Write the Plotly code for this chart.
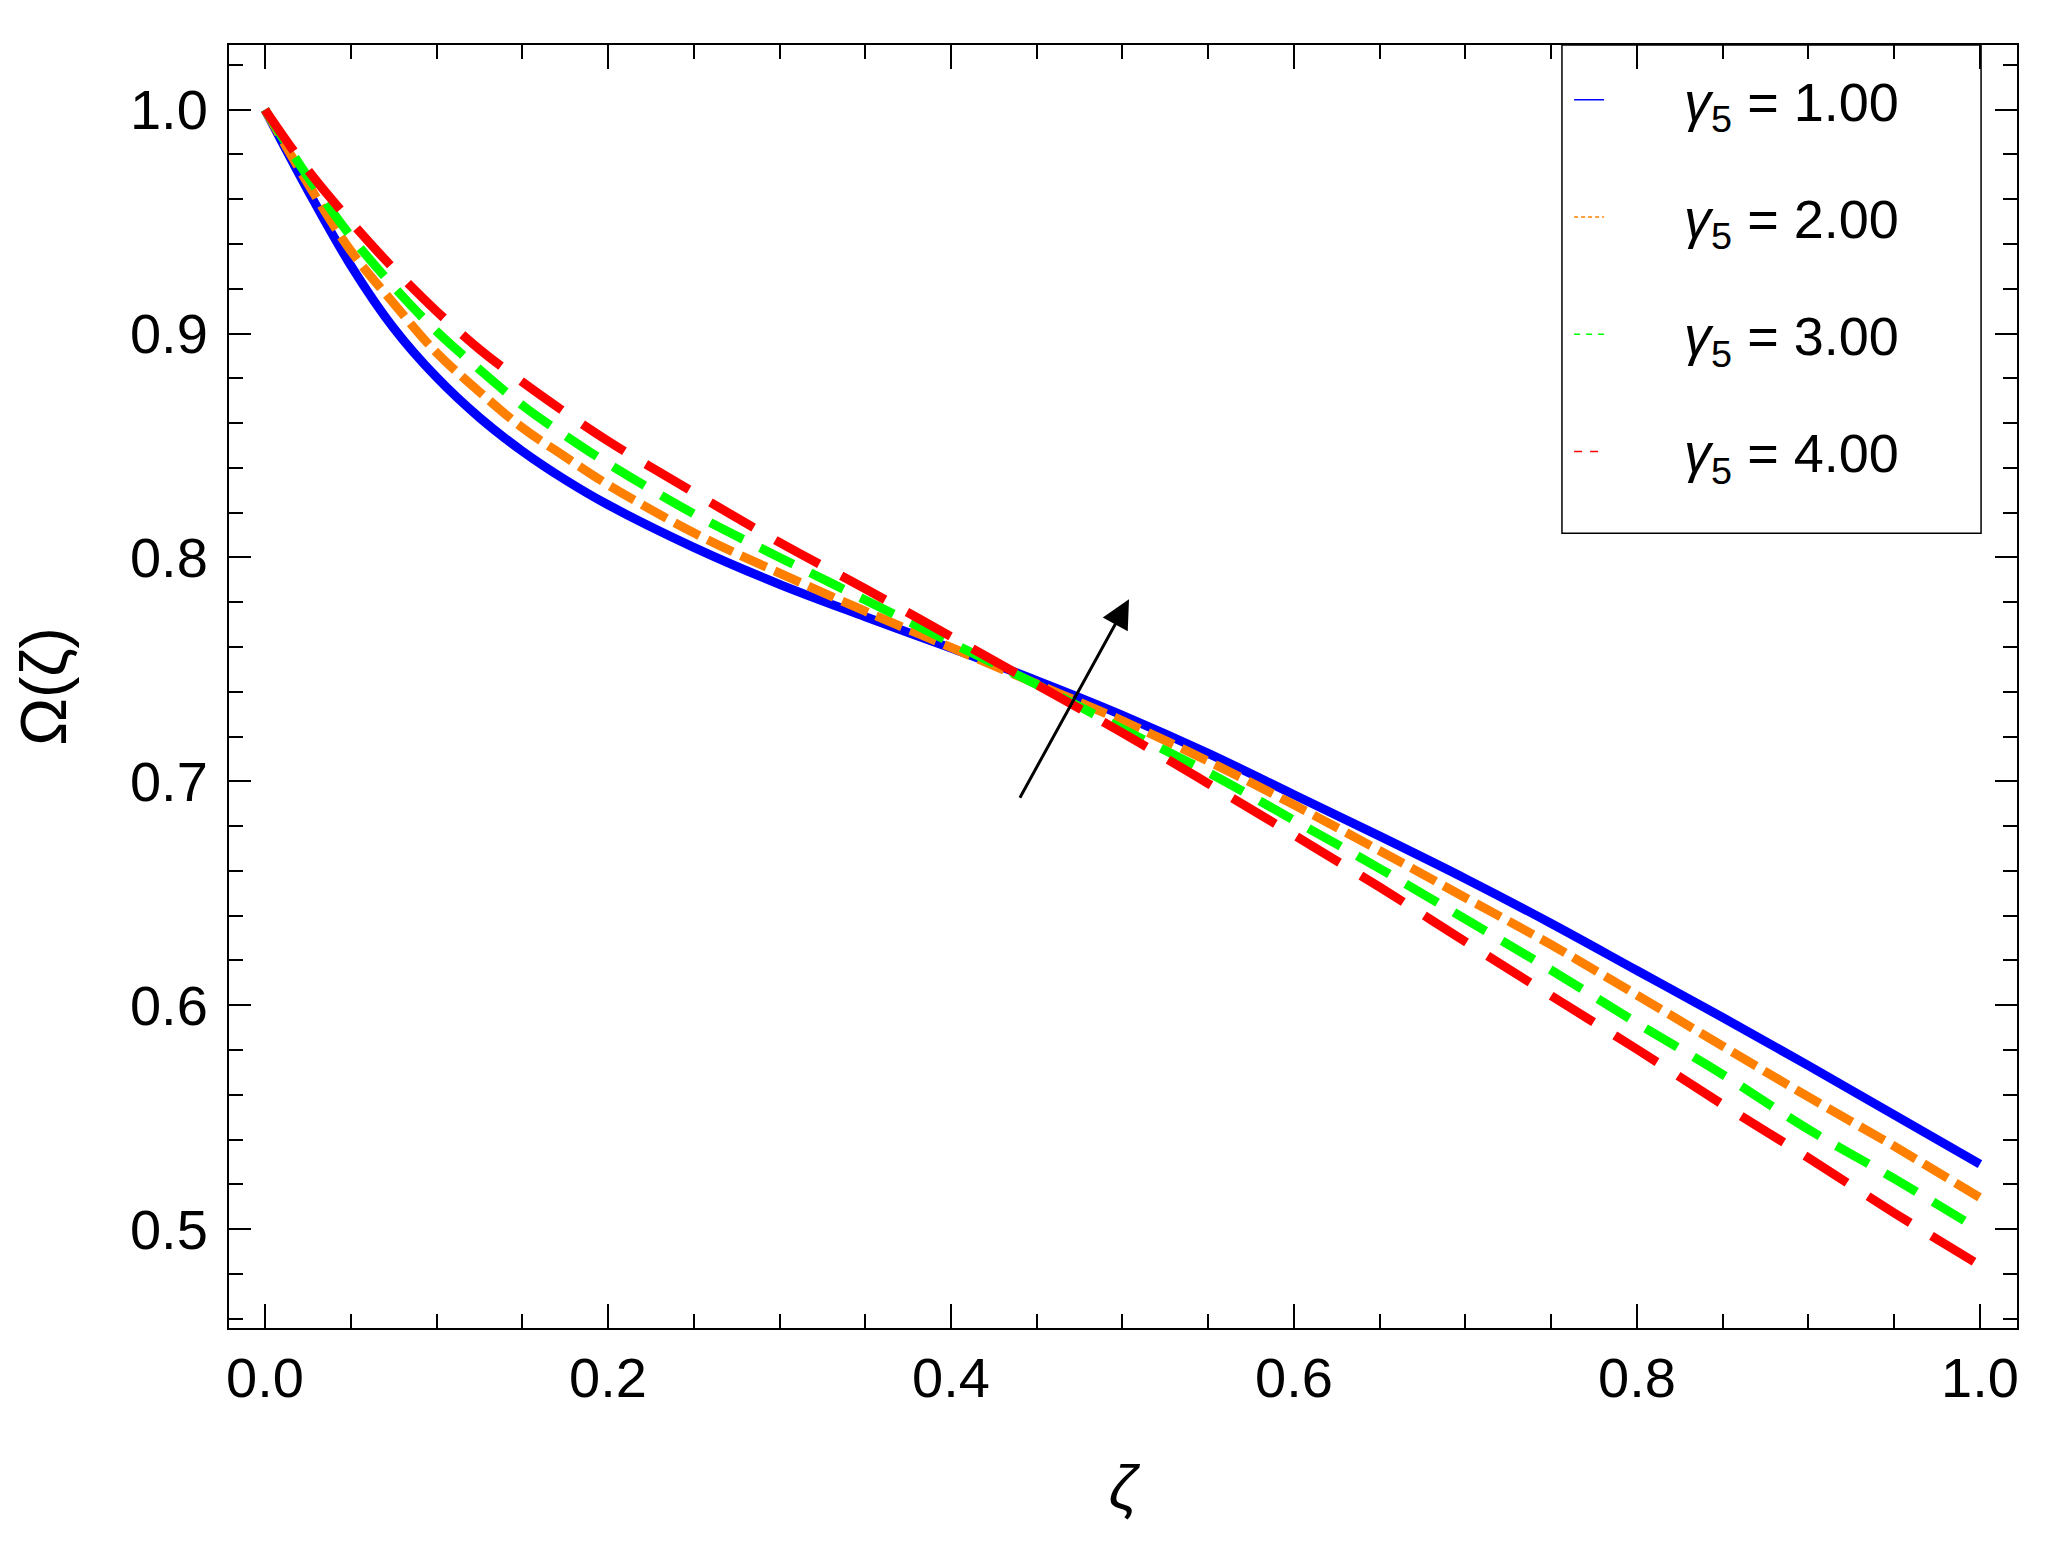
import plotly.graph_objects as go

zeta = [0, 0.025, 0.05, 0.075, 0.1, 0.125, 0.15, 0.175, 0.2, 0.25, 0.3, 0.35, 0.4,
        0.45, 0.5, 0.55, 0.6, 0.65, 0.7, 0.75, 0.8, 0.85, 0.9, 0.95, 1.0]

omega_g1 = [1.0, 0.964, 0.9305, 0.9025, 0.8805, 0.8625, 0.8475, 0.8347, 0.8235, 0.8045, 0.788, 0.7735, 0.7595,
            0.745, 0.7295, 0.7125, 0.694, 0.6755, 0.6565, 0.6365, 0.6155, 0.5945, 0.573, 0.551, 0.529]
omega_g2 = [1.0, 0.967, 0.937, 0.9135, 0.8915, 0.874, 0.858, 0.845, 0.8325, 0.811, 0.793, 0.776, 0.7598,
            0.7435, 0.727, 0.709, 0.6895, 0.669, 0.648, 0.627, 0.6045, 0.5817, 0.559, 0.537, 0.514]
omega_g3 = [1.0, 0.970, 0.9435, 0.921, 0.901, 0.884, 0.868, 0.8545, 0.842, 0.8195, 0.800, 0.781, 0.762,
            0.7432, 0.7234, 0.704, 0.6826, 0.661, 0.6384, 0.6157, 0.592, 0.569, 0.5445, 0.5225, 0.4995]
omega_g4 = [1.0, 0.973, 0.950, 0.929, 0.910, 0.893, 0.8784, 0.8648, 0.852, 0.829, 0.8067, 0.786, 0.7646,
            0.7432, 0.7216, 0.699, 0.676, 0.6527, 0.6283, 0.6042, 0.5803, 0.5556, 0.5318, 0.5072, 0.4838]

series_names = ["<i>γ</i><sub>5</sub> = 1.00", "<i>γ</i><sub>5</sub> = 2.00",
                "<i>γ</i><sub>5</sub> = 3.00", "<i>γ</i><sub>5</sub> = 4.00"]
series_values = [omega_g1, omega_g2, omega_g3, omega_g4]
colors = ["#0000FF", "#FF8000", "#00FF00", "#FF0000"]
dashes = ["solid", "28px,9px", "37px,19px", "50px,25px"]
legend_dashes = ["solid", "4px,3px", "6px,6px", "8px,8px"]

x_tickvals = [0.0, 0.2, 0.4, 0.6, 0.8, 1.0]
x_ticktext = ["0.0", "0.2", "0.4", "0.6", "0.8", "1.0"]
y_tickvals = [0.5, 0.6, 0.7, 0.8, 0.9, 1.0]
y_ticktext = ["0.5", "0.6", "0.7", "0.8", "0.9", "1.0"]

arrow_tail = (0.4397, 0.692)
arrow_head = (0.5038, 0.7813)

NB = "\u00a0"

fig = go.Figure()
for vals, col, dsh in zip(series_values, colors, dashes):
    fig.add_trace(go.Scatter(x=zeta, y=vals, mode="lines", showlegend=False,
                             line=dict(color=col, width=9, dash=dsh, shape="spline", smoothing=1.0)))
for i, (name, col, dsh) in enumerate(zip(series_names, colors, legend_dashes)):
    fig.add_trace(go.Scatter(x=[None], y=[None], mode="lines", name=NB * 5 + name, legendgroup=str(i),
                             line=dict(color=col, width=1.5, dash=dsh)))

fig.add_annotation(x=arrow_head[0], y=arrow_head[1], ax=arrow_tail[0], ay=arrow_tail[1],
                   xref="x", yref="y", axref="x", ayref="y", text="", showarrow=True,
                   arrowhead=2, arrowsize=1.9, arrowwidth=3, arrowcolor="black")

# legend frame
fig.add_shape(type="rect", xref="paper", yref="paper", x0=0.7455, x1=0.9799, y0=0.6195, y1=1.0,
              line=dict(color="black", width=1.5), fillcolor="rgba(0,0,0,0)", layer="above")

font_family = "Liberation Sans, Arial, sans-serif"
axis_common = dict(showline=True, linecolor="black", linewidth=2, mirror="ticks",
                   ticks="inside", tickcolor="black", tickwidth=2, showgrid=False,
                   zeroline=False, tickfont=dict(family=font_family, size=56, color="black"))

fig.update_layout(
    width=2053, height=1558,
    margin=dict(l=221, r=44, t=37, b=238),
    paper_bgcolor="white", plot_bgcolor="white",
    font=dict(family=font_family, color="black"),
    xaxis=dict(range=[-0.021, 1.0216], tickvals=x_tickvals, ticktext=x_ticktext, ticklen=24,
               minor=dict(dtick=0.05, tick0=0, ticklen=14, tickwidth=2, tickcolor="black", ticks="inside"),
               title=dict(text="<i>ζ</i>", font=dict(size=62, family=font_family), standoff=56),
               ticklabelstandoff=0, **axis_common),
    yaxis=dict(range=[0.4558, 1.0289], tickvals=y_tickvals, ticktext=y_ticktext, ticklen=22,
               minor=dict(dtick=0.02, tick0=0, ticklen=14, tickwidth=2, tickcolor="black", ticks="inside"),
               title=dict(text="Ω(ζ)", font=dict(size=64, family=font_family), standoff=48),
               ticklabelstandoff=8, **axis_common),
    legend=dict(x=0.7495, y=0.9897, xanchor="left", yanchor="top", borderwidth=0,
                bgcolor="rgba(0,0,0,0)", font=dict(size=54, family=font_family, color="black"),
                tracegroupgap=44, itemwidth=30),
)

fig.write_html("out.html")
